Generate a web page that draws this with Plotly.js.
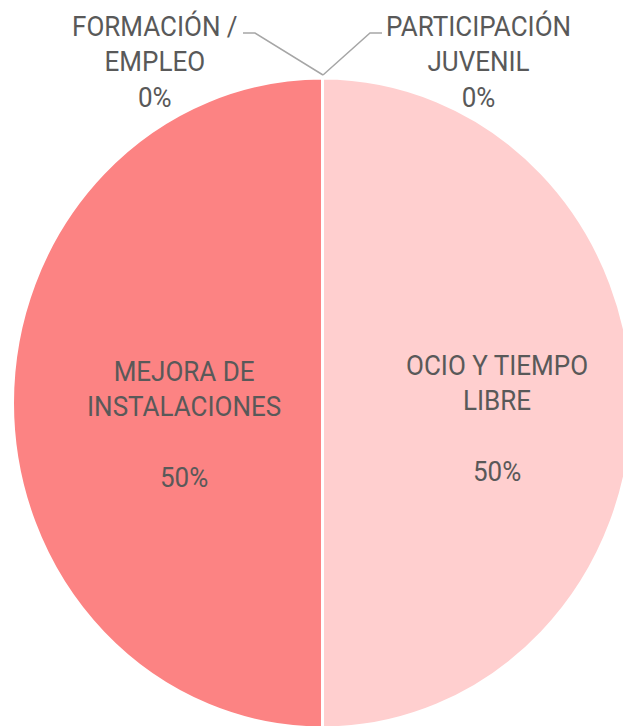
<!DOCTYPE html>
<html>
<head>
<meta charset="utf-8">
<script src="https://cdn.plot.ly/plotly-3.0.1.min.js"></script>
<style>
html, body { margin: 0; padding: 0; background: #ffffff; overflow: hidden; }
#wrap { width: 623px; height: 726px; overflow: hidden; position: relative; }
#chart { width: 650px; height: 726px; transform-origin: 322.5px 403px; transform: scaleY(1.0484); }
</style>
</head>
<body>
<div id="wrap"><div id="chart"></div></div>
<script>
// Data (clockwise from 12 o'clock)
const categories = ["PARTICIPACIÓN<br>JUVENIL", "OCIO Y TIEMPO<br>LIBRE", "MEJORA DE<br>INSTALACIONES", "FORMACIÓN /<br>EMPLEO"];
const values = [0, 50, 50, 0];
const sliceColors = ["#FFE0E0", "#FFCFCF", "#FC8383", "#E86A6A"];

const W = 650, H = 726, CX = 322.5, CY = 403, R = 310, SY = 1.0484;
const px = x => x / W;
const py = y => (H - (CY + (y - CY) / SY)) / H;

const total = values.reduce((a, b) => a + b, 0);
const pctText = v => Math.round(100 * v / total) + "%";

const textColor = "#595959";
const fontFam = "Roboto, 'Liberation Sans', Arial, sans-serif";
const fontSize = 26;

const trace = {
  type: "pie",
  labels: categories,
  values: values,
  sort: false,
  direction: "clockwise",
  rotation: 0,
  marker: { colors: sliceColors, line: { color: "#ffffff", width: 3 } },
  textinfo: "none",
  hoverinfo: "label+percent",
  domain: { x: [(CX - R) / W, (CX + R) / W], y: [(H - CY - R) / H, (H - CY + R) / H] },
  showlegend: false
};

// label placement (reference pixel coords of each label block's centre)
const labelPos = {
  0: [478, 62],   // outside, top right
  1: [497, 418],  // inside, right half
  2: [184, 425],  // inside, left half
  3: [155, 62]    // outside, top left
};
const annotations = categories.map((c, i) => ({
  xref: "paper", yref: "paper",
  x: px(labelPos[i][0]), y: py(labelPos[i][1]),
  xanchor: "center", yanchor: "middle",
  text: values[i] > 0 ? c + "<br><br>" + pctText(values[i]) : c + "<br>" + pctText(values[i]),
  showarrow: false,
  font: { family: fontFam, size: fontSize, color: textColor }
}));

const lp = (pts) => "M " + pts.map(p => px(p[0]) + "," + py(p[1])).join(" L ");
const shapes = [
  { type: "path", xref: "paper", yref: "paper", path: lp([[243, 33], [255, 33], [323, 75]]), line: { color: "#A6A6A6", width: 1.5 } },
  { type: "path", xref: "paper", yref: "paper", path: lp([[323, 75], [370, 33], [382, 33]]), line: { color: "#A6A6A6", width: 1.5 } }
];

const layout = {
  width: W, height: H,
  margin: { l: 0, r: 0, t: 0, b: 0 },
  paper_bgcolor: "#ffffff",
  plot_bgcolor: "#ffffff",
  annotations: annotations,
  shapes: shapes
};

Plotly.newPlot("chart", [trace], layout, { displayModeBar: false, staticPlot: true });
</script>
</body>
</html>
